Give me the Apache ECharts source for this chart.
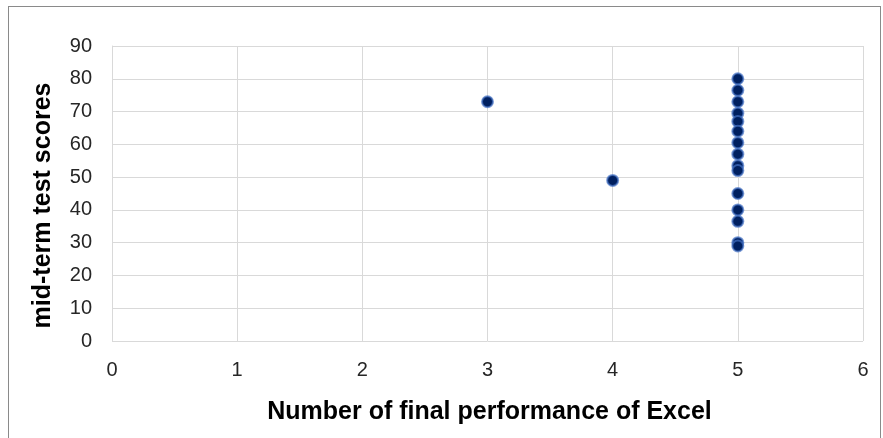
<!DOCTYPE html>
<html><head><meta charset="utf-8">
<script src="https://cdn.jsdelivr.net/npm/echarts@6/dist/echarts.min.js"></script>
<style>
html,body{margin:0;padding:0;background:#fff;}
#frame{position:absolute;left:8px;top:6px;width:873px;height:440px;border:1px solid #8a8a8a;box-sizing:border-box;}
#c{position:absolute;left:0;top:0;width:883px;height:438px;}
</style></head>
<body>
<div id="frame"></div>
<div id="c"></div>
<script>
const xValues = [3, 4, 5, 5, 5, 5, 5, 5, 5, 5, 5, 5, 5, 5, 5, 5, 5];
const yValues = [73, 49, 80, 76.5, 73, 69.5, 67, 64, 60.5, 57, 53.5, 52, 45, 40, 36.5, 30, 29];
const xTicks = [0, 1, 2, 3, 4, 5, 6];
const yTicks = [0, 10, 20, 30, 40, 50, 60, 70, 80, 90];
const xTitle = 'Number of final performance of Excel';
const yTitle = 'mid-term test scores';

const font = "'Liberation Sans', Arial, sans-serif";
const chart = echarts.init(document.getElementById('c'), null, {renderer: 'canvas'});
const pts = xValues.map((x, i) => [x, yValues[i]]);
chart.setOption({
  animation: false,
  backgroundColor: 'transparent',
  grid: {left: 112, right: 20, top: 46, bottom: 97, containLabel: false},
  xAxis: {
    type: 'value', min: xTicks[0], max: xTicks[xTicks.length - 1], interval: 1,
    axisLine: {show: false}, axisTick: {show: false},
    splitLine: {show: true, lineStyle: {color: '#d9d9d9', width: 1}},
    axisLabel: {margin: 19, color: '#262626', fontSize: 20, fontFamily: font},
    name: xTitle, nameLocation: 'middle', nameGap: 59,
    nameTextStyle: {fontSize: 25, fontWeight: 'bold', color: '#000', fontFamily: font, padding: [0, 0, 0, 4]}
  },
  yAxis: {
    type: 'value', min: yTicks[0], max: yTicks[yTicks.length - 1], interval: 10,
    axisLine: {show: true, lineStyle: {color: '#d9d9d9'}}, axisTick: {show: false},
    splitLine: {show: true, lineStyle: {color: '#d9d9d9', width: 1}},
    axisLabel: {margin: 20, color: '#262626', fontSize: 20, fontFamily: font},
    name: yTitle, nameLocation: 'middle', nameGap: 56, nameRotate: 90,
    nameTextStyle: {fontSize: 25, fontWeight: 'bold', color: '#000', fontFamily: font, padding: [0, 24, 0, 0]}
  },
  series: [{
    type: 'scatter', data: pts, symbol: 'circle', symbolSize: 11,
    itemStyle: {color: '#002060', borderColor: 'rgba(68,114,196,0.7)', borderWidth: 2, opacity: 1}
  }]
});
</script>
</body></html>
